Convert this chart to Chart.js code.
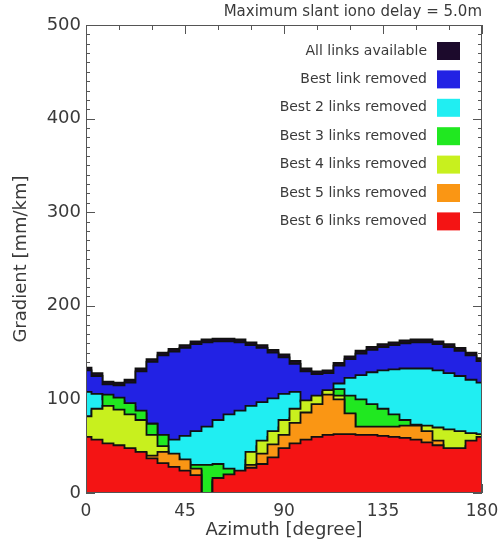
<!DOCTYPE html>
<html>
<head>
<meta charset="utf-8">
<script src="https://cdn.jsdelivr.net/npm/chart.js@4.4.1/dist/chart.umd.min.js"></script>
<style>
  html, body { margin: 0; padding: 0; background: #fff; }
  canvas { display: block; }
</style>
</head>
<body>
<canvas id="chart" width="498" height="543"></canvas>
<script>
// --- DATA ---
const azimuth = [0, 5, 10, 15, 20, 25, 30, 35, 40, 45, 50, 55, 60, 65, 70, 75, 80, 85, 90,
                 95, 100, 105, 110, 115, 120, 125, 130, 135, 140, 145, 150, 155, 160, 165, 170, 175, 180];

const allLinks = [134, 128, 119, 118, 121, 133, 143, 150, 154, 158, 162, 164, 165, 165, 164, 161, 158, 153, 148,
                  141, 133, 130, 131, 139, 146, 152, 156, 159, 161, 163, 164, 164, 162, 159, 155, 150, 144];
const best1 = [131, 125, 116, 115, 118, 130, 140, 147, 151, 155, 159, 161, 162, 162, 161, 158, 155, 150, 145,
               138, 130, 127, 128, 136, 143, 149, 153, 156, 158, 160, 161, 161, 159, 156, 152, 147, 141];
const best2 = [108, 106, 100, 98, 92, 85, 74, 62, 57, 61, 66, 71, 78, 84, 88, 93, 97, 101, 106,
               108, 98, 102, 108, 117, 123, 126, 129, 131, 132, 133, 133, 133, 131, 128, 125, 121, 118];
const best3 = [80, 88, 105, 102, 96, 88, 74, 62, 36, 33, 30, 30, 31, 26, 20, 35, 50, 60, 70,
               80, 90, 100, 108, 111, 104, 100, 95, 90, 84, 78, 73, 64, 60, 58, 56, 55, 55];
const best4 = [82, 90, 93, 89, 84, 78, 62, 50, 38, 30, 24, 0, 12, 15, 18, 44, 56, 66, 78,
               90, 99, 104, 110, 104, 84, 68, 68, 68, 68, 68, 68, 72, 70, 68, 66, 64, 63];
const best5 = [55, 52, 50, 48, 46, 43, 40, 44, 42, 36, 26, 0, 14, 16, 18, 30, 42, 52, 62,
               75, 86, 95, 105, 100, 85, 71, 71, 71, 71, 72, 72, 66, 56, 46, 46, 50, 55];
const best6 = [60, 57, 53, 51, 48, 44, 37, 32, 28, 24, 19, 0, 16, 20, 24, 27, 31, 38, 48,
               53, 57, 60, 62, 63, 63, 62, 62, 61, 60, 59, 57, 54, 51, 48, 48, 56, 60];

const seriesLabels = ['All links available', 'Best link removed', 'Best 2 links removed',
                      'Best 3 links removed', 'Best 4 links removed', 'Best 5 links removed',
                      'Best 6 links removed'];
const seriesColors = ['#1c0a2c', '#2222e4', '#20eef2', '#20e820', '#c8f01e', '#fa9614', '#f41414'];
const seriesValues = [allLinks, best1, best2, best3, best4, best5, best6];

const FONT = 'DejaVu Sans';
const TEXT = '#3a3a3a';

// --- PLUGINS ---
// inward ticks on all four sides + frame
const frameTicks = {
    id: 'frameTicks',
    beforeDatasetsDraw(chart) {
        const { ctx, chartArea: a, scales: { x, y } } = chart;
        ctx.save();
        ctx.strokeStyle = '#555';
        ctx.lineWidth = 1;
        ctx.beginPath();
        for (let v = 0; v <= 180; v += 15) {
            const px = Math.round(x.getPixelForValue(v)) + 0.5;
            const len = v % 45 === 0 ? 9 : 5;
            ctx.moveTo(px, a.bottom); ctx.lineTo(px, a.bottom - len);
            ctx.moveTo(px, a.top); ctx.lineTo(px, a.top + len);
        }
        for (let v = 0; v <= 500; v += 10) {
            const py = Math.round(y.getPixelForValue(v)) + 0.5;
            const len = v % 100 === 0 ? 9 : 4;
            ctx.moveTo(a.left, py); ctx.lineTo(a.left + len, py);
            ctx.moveTo(a.right, py); ctx.lineTo(a.right - len, py);
        }
        ctx.stroke();
        ctx.restore();
    },
    afterDraw(chart) {
        const { ctx, chartArea: a } = chart;
        ctx.save();
        ctx.strokeStyle = '#555';
        ctx.lineWidth = 1;
        ctx.strokeRect(a.left + 0.5, a.top + 0.5, a.right - a.left - 1, a.bottom - a.top - 1);
        ctx.restore();
    }
};

// legend inside the plot: text on the left, colour box on the right
const boxLegend = {
    id: 'boxLegend',
    afterDraw(chart) {
        const { ctx, chartArea: a } = chart;
        ctx.save();
        ctx.font = '14px "' + FONT + '"';
        ctx.textAlign = 'right';
        ctx.textBaseline = 'middle';
        chart.data.datasets.forEach((ds, i) => {
            const cy = a.top + 26 + i * 28.4;
            ctx.fillStyle = TEXT;
            ctx.fillText(ds.label, a.right - 55, cy);
            ctx.fillStyle = ds.backgroundColor;
            ctx.fillRect(a.right - 45, cy - 9, 23, 18);
        });
        ctx.restore();
    }
};

// --- DATASETS ---
// red (last) is painted on top, black (first) at the bottom
const datasets = seriesValues.map((vals, i) => ({
    label: seriesLabels[i],
    data: vals.map((v, j) => ({ x: azimuth[j], y: v })),
    backgroundColor: seriesColors[i],
    borderColor: '#111',
    borderWidth: 1.8,
    fill: 'origin',
    stepped: 'middle',
    pointRadius: 0,
    order: seriesValues.length - i
}));

new Chart(document.getElementById('chart'), {
    type: 'line',
    data: { datasets },
    options: {
        responsive: false,
        animation: false,
        devicePixelRatio: 1,
        layout: { padding: { left: 0, right: 16, top: 0, bottom: 0 } },
        plugins: {
            legend: { display: false },
            tooltip: { enabled: false },
            title: {
                display: true,
                text: 'Maximum slant iono delay = 5.0m',
                align: 'end',
                color: TEXT,
                font: { family: FONT, size: 15, weight: 'normal' },
                padding: { top: 3.5, bottom: 3.5 }
            }
        },
        scales: {
            x: {
                type: 'linear',
                min: 0,
                max: 180,
                border: { display: false },
                grid: { display: false, drawTicks: false },
                ticks: { stepSize: 45, padding: 8, maxRotation: 0, color: TEXT, font: { family: FONT, size: 17 } },
                title: {
                    display: true,
                    text: 'Azimuth [degree]',
                    color: TEXT,
                    font: { family: FONT, size: 18 },
                    padding: { top: 0, bottom: 2 }
                },
                afterFit(scale) {
                    scale.height = 50;
                    scale.paddingLeft = 0;
                    scale.paddingRight = 0;
                }
            },
            y: {
                type: 'linear',
                min: 0,
                max: 500,
                border: { display: false },
                grid: { display: false, drawTicks: false },
                ticks: { stepSize: 100, padding: 5, color: TEXT, font: { family: FONT, size: 18 } },
                title: {
                    display: true,
                    text: 'Gradient [mm/km]',
                    color: TEXT,
                    font: { family: FONT, size: 18 },
                    padding: { top: 11, bottom: 0 }
                },
                afterFit(scale) {
                    scale.width = 86;
                    scale.paddingTop = 0;
                    scale.paddingBottom = 0;
                }
            }
        }
    },
    plugins: [frameTicks, boxLegend]
});
</script>
</body>
</html>
